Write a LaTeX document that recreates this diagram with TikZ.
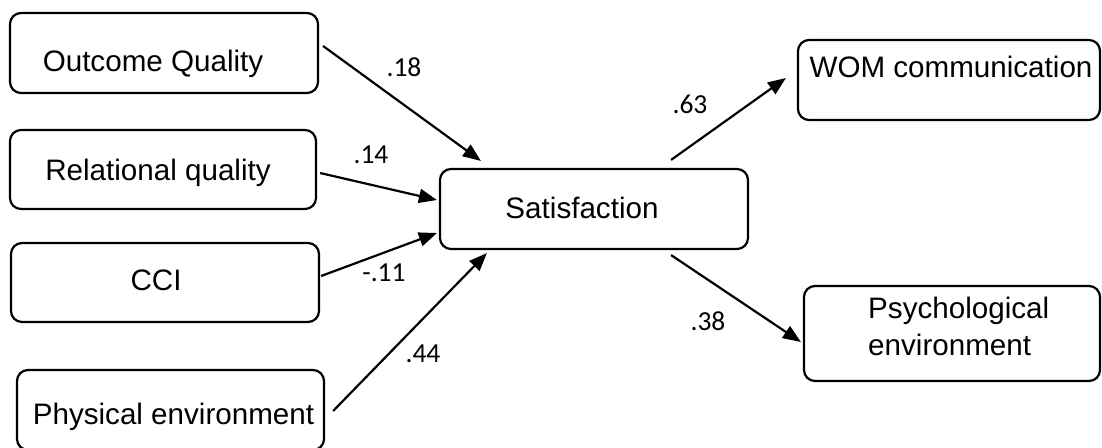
\documentclass[tikz,border=0pt]{standalone}
\usepackage{fontspec}
\setmainfont{Liberation Sans}
\newfontfamily\numfont{Carlito}
\usetikzlibrary{arrows.meta}

\tikzset{
  box/.style={draw, line width=2.2pt, rounded corners=11pt, inner sep=0pt},
  txt/.style={font=\fontsize{29.6}{35}\selectfont, inner sep=0pt, anchor=base},
  coef/.style={font=\numfont\fontsize{27.5}{32}\selectfont, inner sep=0pt},
  path/.style={line width=2.2pt, -{Triangle[length=18pt,width=14pt]}}
}

\begin{document}
\begin{tikzpicture}[x=1pt,y=-1pt]
\useasboundingbox (0,0) rectangle (1102,447);

% construct boxes
\node[box, minimum width=308pt, minimum height=80pt] (oq)  at (164,53)    {};
\node[box, minimum width=306pt, minimum height=79pt] (rq)  at (163,169.5) {};
\node[box, minimum width=308pt, minimum height=79pt] (cci) at (165,282.5) {};
\node[box, minimum width=307pt, minimum height=80pt] (pe)  at (170.5,410) {};
\node[box, minimum width=308pt, minimum height=80pt] (sat) at (594,209)   {};
\node[box, minimum width=302pt, minimum height=80pt] (wom) at (949,80)    {};
\node[box, minimum width=296pt, minimum height=95pt] (psy) at (952,333.5) {};

% box texts
\node[txt] (toq)  at (153,71.5)  {Outcome Quality};
\node[txt] (trq)  at (158,180)   {Relational quality};
\node[txt] (tcci) at (156,290)   {CCI};
\node[txt] (tpe)  at (173.5,424) {Physical environment};
\node[txt] (tsat) at (582,218)   {Satisfaction};
\node[txt] (twom) at (951,77)    {WOM communication};
\node[txt, anchor=base west] (tpsy1) at (868,318) {Psychological};
\node[txt, anchor=base west] (tpsy2) at (868,355) {environment};

% structural paths
\draw[path] ([shift={(4,-7)}]oq.east)  -- ([shift={(42,-7)}]sat.north west);
\draw[path] ([shift={(3,3.5)}]rq.east) -- ([shift={(-2,-9)}]sat.west);
\draw[path] ([shift={(1,-6.5)}]cci.east) -- ([shift={(-2,24)}]sat.west);
\draw[path] ([shift={(8,1)}]pe.east)   -- ([shift={(48,3)}]sat.south west);
\draw[path] ([shift={(-78,-8)}]sat.north east) -- ([shift={(-11,-2)}]wom.west);
\draw[path] ([shift={(-78,5)}]sat.south east)  -- ([shift={(-2,8.5)}]psy.west);

% path coefficients
\node[coef] (c1) at (404,67)  {.18};
\node[coef] (c2) at (371,155) {.14};
\node[coef] (c3) at (384,273) {-.11};
\node[coef] (c4) at (423,354) {.44};
\node[coef] (c5) at (690,104) {.63};
\node[coef] (c6) at (708,321) {.38};
\end{tikzpicture}
\end{document}
